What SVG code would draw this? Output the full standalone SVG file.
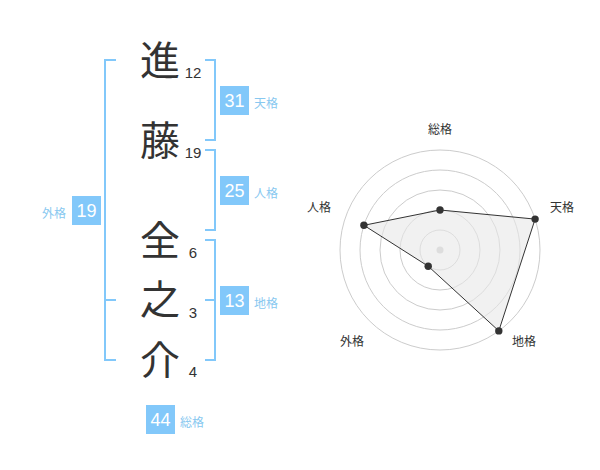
<svg xmlns="http://www.w3.org/2000/svg" width="600" height="470" viewBox="0 0 600 470">
<style>
.kanji{font-family:"Noto Sans CJK JP","Noto Sans CJK SC",sans-serif;font-size:40px;fill:#333;text-anchor:middle}
.num{font-family:"Liberation Sans",Arial,sans-serif;font-size:15px;fill:#333;text-anchor:middle}
.br{fill:none;stroke:#82c8fa;stroke-width:2}
.box{fill:#82c8fa}
.bt{font-family:"Liberation Sans",Arial,sans-serif;font-size:18px;fill:#fff;text-anchor:middle}
.lb{font-family:"Noto Sans CJK JP","Noto Sans CJK SC",sans-serif;font-size:12px;fill:#88c8f0}
.ax{font-family:"Noto Sans CJK JP","Noto Sans CJK SC",sans-serif;font-size:12px;fill:#333;text-anchor:middle}
.ring{fill:none;stroke:#ccc;stroke-width:1}
.pt{fill:#333}
</style>
<rect width="600" height="470" fill="#fff"/>
<g id="chars">
<text class="kanji" x="160" y="75">進</text>
<text class="kanji" x="160" y="155">藤</text>
<text class="kanji" x="160" y="255">全</text>
<text class="kanji" x="160" y="314">之</text>
<text class="kanji" x="160" y="375">介</text>
<text class="num" x="193" y="78">12</text>
<text class="num" x="193" y="158">19</text>
<text class="num" x="193" y="258">6</text>
<text class="num" x="193" y="318">3</text>
<text class="num" x="193" y="377">4</text>
</g>
<g id="connectors">
<path class="br" d="M116,60 H105 V360 H116 M105,300 H116"/>
<path class="br" d="M205,60 H215 V140 H205"/>
<path class="br" d="M205,150 H215 V230 H205"/>
<path class="br" d="M205,240 H215 V360 H205 M205,300 H215"/>
</g>
<g id="tenkaku">
<rect class="box" x="220" y="86" width="29" height="29"/>
<text class="bt" x="234.5" y="107">31</text>
<text class="lb" x="254" y="108">天格</text>
</g>
<g id="jinkaku">
<rect class="box" x="220" y="176" width="29" height="29"/>
<text class="bt" x="234.5" y="197">25</text>
<text class="lb" x="254" y="198">人格</text>
</g>
<g id="chikaku">
<rect class="box" x="220" y="286" width="29" height="29"/>
<text class="bt" x="234.5" y="307">13</text>
<text class="lb" x="254" y="308">地格</text>
</g>
<g id="gaikaku">
<rect class="box" x="72" y="196" width="29" height="29"/>
<text class="bt" x="86.5" y="217">19</text>
<text class="lb" x="42" y="218">外格</text>
</g>
<g id="soukaku">
<rect class="box" x="146" y="405" width="29" height="29"/>
<text class="bt" x="160.5" y="426">44</text>
<text class="lb" x="180" y="427">総格</text>
</g>
<g id="radar">
<circle class="ring" cx="440" cy="250" r="20"/>
<circle class="ring" cx="440" cy="250" r="40"/>
<circle class="ring" cx="440" cy="250" r="60"/>
<circle class="ring" cx="440" cy="250" r="80"/>
<circle class="ring" cx="440" cy="250" r="100"/>
<circle cx="440" cy="250" r="3.5" fill="#ccc"/>
<polygon points="440,210 535.1,219.1 498.8,330.9 428.2,266.2 363.9,225.3" fill="#e8e8e8" fill-opacity="0.6" stroke="#333" stroke-width="1"/>
<circle class="pt" cx="440" cy="210" r="3.7"/>
<circle class="pt" cx="535.1" cy="219.1" r="3.7"/>
<circle class="pt" cx="498.8" cy="330.9" r="3.7"/>
<circle class="pt" cx="428.2" cy="266.2" r="3.7"/>
<circle class="pt" cx="363.9" cy="225.3" r="3.7"/>
<text class="ax" x="440" y="134">総格</text>
<text class="ax" x="562" y="212">天格</text>
<text class="ax" x="319" y="212">人格</text>
<text class="ax" x="352" y="346">外格</text>
<text class="ax" x="524" y="346">地格</text>
</g>
</svg>
